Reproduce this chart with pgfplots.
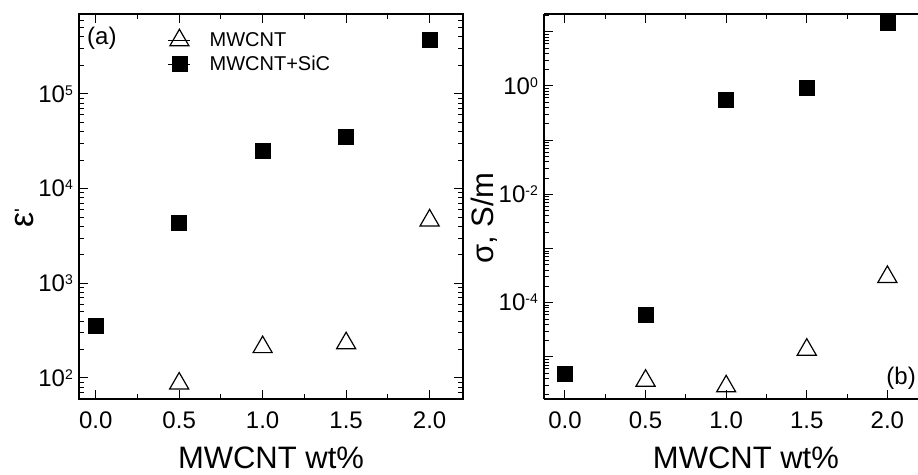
\documentclass[border=0pt]{standalone}
\usepackage{fontspec}
\setmainfont{Liberation Sans}
\usepackage{pgfplots}
\pgfplotsset{compat=1.18}
\newcommand{\ex}[1]{{\fontsize{24}{24}\selectfont 10}\raisebox{7pt}{\fontsize{14}{14}\selectfont #1}}
\begin{document}
\begin{tikzpicture}[x=1pt,y=1pt]
\useasboundingbox (0,0) rectangle (918,474);
\begin{axis}[scale only axis, height=385pt,
  ymode=log, clip=false,
  axis line style={line width=1.4pt},
  every tick/.style={black, line width=1pt},
  major tick length=9pt, minor tick length=5pt,
  tick align=inside,
  tick label style={font=\fontsize{24}{24}\selectfont},
  xticklabel style={yshift=-9pt},
  yticklabel style={inner sep=1pt, xshift=-5pt},
  label style={font=\fontsize{31}{31}\selectfont},
  xtick={0,0.5,1,1.5,2}, xticklabels={0.0,0.5,1.0,1.5,2.0},
  minor xtick={0.25,0.75,1.25,1.75},
  xlabel={MWCNT wt\%},
  at={(79pt,75pt)}, anchor=south west, width=384pt,
  xmin=-0.1, xmax=2.2, ymin=60, ymax=7e5,
  ytick={100,1000,10000,100000},
  yticklabels={\ex{2},\ex{3},\ex{4},\ex{5}},
  minor ytick={60,70,80,90,200,300,400,500,600,700,800,900,2000,3000,4000,5000,6000,7000,8000,9000,2e4,3e4,4e4,5e4,6e4,7e4,8e4,9e4,2e5,3e5,4e5,5e5,6e5,7e5},
  xlabel style={at={(axis description cs:0.5,-0.181)}, anchor=base},
  ylabel={\fontsize{34}{34}\selectfont ε\raisebox{5pt}{\fontsize{20}{20}\selectfont\textquotesingle}},
  ylabel style={at={(axis description cs:-0.118,0.469)}, anchor=base},
  legend style={draw=none, fill=none, at={(axis description cs:0.224,0.966)}, anchor=north west,
    font=\fontsize{20}{20}\selectfont, row sep=8pt, column sep=19pt, nodes={inner sep=0pt}},
  legend cell align=left,
  legend image code/.code={\path (0pt,0pt) -- (22pt,0pt); \draw[#1,mark repeat=2,mark phase=2] plot coordinates {(0pt,0pt)(11pt,0pt)(22pt,0pt)};},
]
\addplot[only marks, mark=triangle, mark size=11pt, mark options={line width=1.2pt, fill=white, draw=black}] coordinates {(0.5,87.5) (1.0,212) (1.5,233) (2.0,4620)};
\addlegendentry{MWCNT}
\addplot[only marks, mark=square*, mark size=7.5pt, mark options={fill=black, draw=black}] coordinates {(0.0,357) (0.5,4400) (1.0,25200) (1.5,35500) (2.0,373000)};
\addlegendentry{MWCNT+SiC}
\end{axis}
\begin{axis}[scale only axis, height=385pt,
  ymode=log, clip=false,
  axis line style={line width=1.4pt},
  every tick/.style={black, line width=1pt},
  major tick length=9pt, minor tick length=5pt,
  tick align=inside,
  tick label style={font=\fontsize{24}{24}\selectfont},
  xticklabel style={yshift=-9pt},
  yticklabel style={inner sep=1pt, xshift=-5pt},
  label style={font=\fontsize{31}{31}\selectfont},
  xtick={0,0.5,1,1.5,2}, xticklabels={0.0,0.5,1.0,1.5,2.0},
  minor xtick={0.25,0.75,1.25,1.75},
  xlabel={MWCNT wt\%},
  at={(544pt,75pt)}, anchor=south west, width=374pt,
  axis x line*=box, axis y line*=left,
  xmin=-0.13, xmax=2.19, ymin=1.67e-6, ymax=21.3,
  ytick={1e-5,1e-4,1e-3,1e-2,1e-1,1,10},
  yticklabels={,\ex{-4},,\ex{-2},,\ex{0},},
  minor ytick={2e-6,3e-6,4e-6,5e-6,6e-6,7e-6,8e-6,9e-6,2e-5,3e-5,4e-5,5e-5,6e-5,7e-5,8e-5,9e-5,2e-4,3e-4,4e-4,5e-4,6e-4,7e-4,8e-4,9e-4,2e-3,3e-3,4e-3,5e-3,6e-3,7e-3,8e-3,9e-3,2e-2,3e-2,4e-2,5e-2,6e-2,7e-2,8e-2,9e-2,0.2,0.3,0.4,0.5,0.6,0.7,0.8,0.9,2,3,4,5,6,7,8,9,20},
  xlabel style={at={(axis description cs:0.540,-0.181)}, anchor=base},
  ylabel={σ, S/m},
  ylabel style={at={(axis description cs:-0.134,0.470)}, anchor=base},
]
\addplot[only marks, mark=triangle, mark size=11pt, mark options={line width=1.2pt, fill=white, draw=black}] coordinates {(0.5,3.64e-6) (1.0,2.86e-6) (1.5,1.36e-5) (2.0,2.99e-4)};
\addplot[only marks, mark=square*, mark size=7.5pt, mark options={fill=black, draw=black}] coordinates {(0.0,4.84e-6) (0.5,6.1e-5) (1.0,0.57) (1.5,0.91) (2.0,14.5)};
\end{axis}
\node[anchor=west, inner sep=0pt, font=\fontsize{24}{24}\selectfont] at (87,436) {(a)};
\node[anchor=east, inner sep=0pt, font=\fontsize{24}{24}\selectfont] at (916,96) {(b)};
\end{tikzpicture}
\end{document}
